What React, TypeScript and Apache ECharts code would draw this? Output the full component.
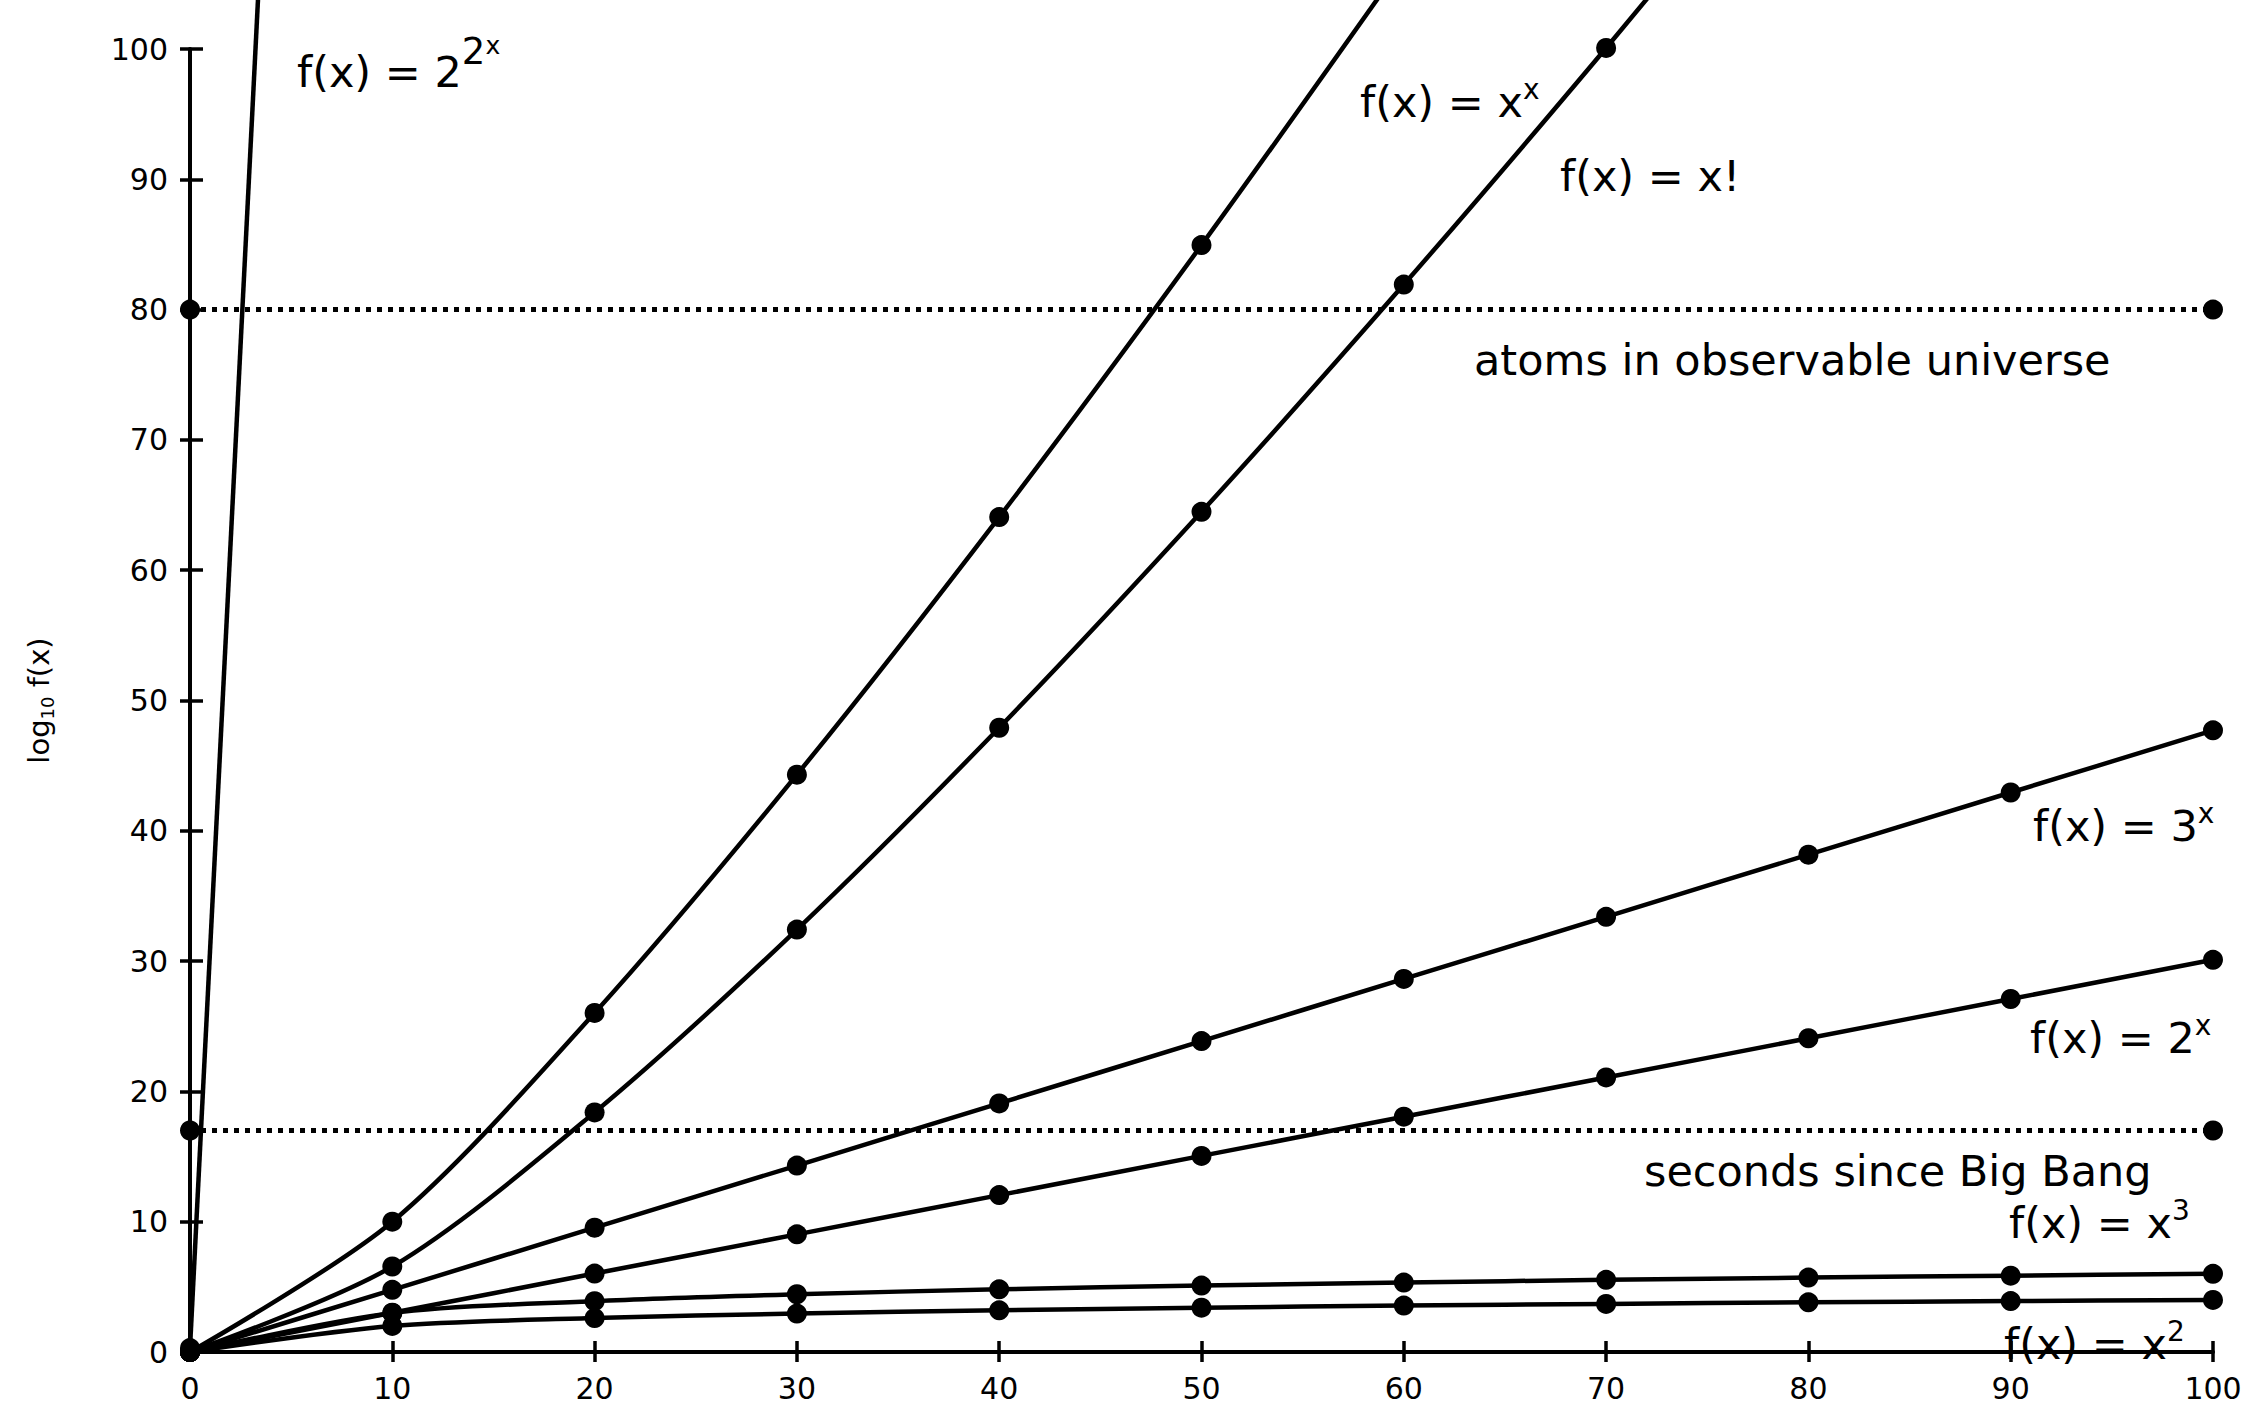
import React, { useEffect, useRef } from "react";
import * as echarts from "echarts";

// x positions (n)
const xs = [0, 10, 20, 30, 40, 50, 60, 70, 80, 90, 100];
// log10 f(x) values
const squareVals = [0, 2.0, 2.6, 2.95, 3.2, 3.4, 3.56, 3.69, 3.81, 3.91, 4.0];
const cubeVals = [0, 3.0, 3.9, 4.43, 4.81, 5.1, 5.33, 5.54, 5.71, 5.86, 6.0];
const pow2Vals = [0, 3.01, 6.02, 9.03, 12.04, 15.05, 18.06, 21.07, 24.08, 27.09, 30.1];
const pow3Vals = [0, 4.77, 9.54, 14.31, 19.08, 23.86, 28.63, 33.4, 38.17, 42.94, 47.71];
const factorialVals = [0, 6.56, 18.39, 32.42, 47.91, 64.48, 81.92, 100.08, 118.85];
const selfPowVals = [0, 10, 26.02, 44.31, 64.08, 84.95, 106.69];
const doubleExpXs = [0, 10];
const doubleExpVals = [0.3, 308.25];
// reference levels
const atomsLevel = 80;
const bigBangLevel = 17;
const refXs = [0, 100];
// axis ticks
const yTicksMax = 100;
const xTicksMax = 100;
const tickStep = 10;

const FONT = "DejaVu Sans";

function pairs(x: number[], y: number[]) {
  return y.map((v, i) => [x[i], v]);
}

function curve(name: string, data: number[][]) {
  return {
    name,
    type: "line",
    data,
    smooth: 0.3,
    clip: false,
    symbol: "circle",
    symbolSize: 20,
    itemStyle: { color: "#000" },
    lineStyle: { color: "#000", width: 4.5 },
    z: 3,
  };
}

function refLine(name: string, level: number) {
  return {
    name,
    type: "line",
    data: refXs.map((x) => [x, level]),
    clip: false,
    symbol: "circle",
    symbolSize: 20,
    itemStyle: { color: "#000" },
    lineStyle: { color: "#000", width: 5, type: [5, 6], cap: "butt" },
    z: 2,
  };
}

function label(x: number, y: number, text: string, rich: any) {
  return {
    type: "text",
    x,
    y,
    z: 100,
    style: {
      text,
      rich,
      fill: "#000",
      align: "left",
      verticalAlign: "middle",
      fontFamily: FONT,
      fontSize: 43,
    },
  };
}

const baseTok = { fontSize: 43, fontFamily: FONT, fill: "#000", lineHeight: 54 };
const supTok = { fontSize: 28, fontFamily: FONT, fill: "#000", lineHeight: 28, verticalAlign: "top" };

export default function App() {
  const ref = useRef<HTMLDivElement>(null);
  useEffect(() => {
    if (!ref.current) return;
    const chart = echarts.init(ref.current, undefined, { renderer: "svg" });
    const axisCommon = {
      type: "value",
      min: 0,
      interval: tickStep,
      splitLine: { show: false },
    };
    chart.setOption({
      animation: false,
      backgroundColor: "#fff",
      grid: { left: 190, right: 48, top: 49, bottom: 56, containLabel: false },
      xAxis: [
        {
          ...axisCommon,
          max: xTicksMax,
          position: "bottom",
          axisLine: { onZero: false, lineStyle: { color: "#000", width: 4 } },
          axisTick: { inside: true, length: 11, lineStyle: { color: "#000", width: 3.5 } },
          axisLabel: { fontSize: 30, fontFamily: FONT, color: "#000", margin: 21 },
        },
        {
          ...axisCommon,
          max: xTicksMax,
          position: "bottom",
          axisLine: { show: false, onZero: false },
          axisTick: { inside: false, length: 10, lineStyle: { color: "#000", width: 3.5 } },
          axisLabel: { show: false },
        },
      ],
      yAxis: [
        {
          ...axisCommon,
          max: yTicksMax,
          position: "left",
          axisLine: { onZero: false, lineStyle: { color: "#000", width: 4 } },
          axisTick: { inside: true, length: 13, lineStyle: { color: "#000", width: 3.5 } },
          axisLabel: { fontSize: 30, fontFamily: FONT, color: "#000", margin: 22 },
          name: "{a|log}{b|10}{a| f(x)}",
          nameLocation: "middle",
          nameGap: 134,
          nameRotate: 90,
          nameTextStyle: {
            fontSize: 29,
            fontFamily: FONT,
            color: "#000",
            rich: {
              a: { fontSize: 29, fontFamily: FONT, color: "#000", lineHeight: 34 },
              b: { fontSize: 18, fontFamily: FONT, color: "#000", lineHeight: 18, verticalAlign: "bottom" },
            },
          },
        },
        {
          ...axisCommon,
          max: yTicksMax,
          position: "left",
          axisLine: { show: false, onZero: false },
          axisTick: { inside: false, length: 10, lineStyle: { color: "#000", width: 3.5 } },
          axisLabel: { show: false },
        },
      ],
      series: [
        refLine("atoms in observable universe", atomsLevel),
        refLine("seconds since Big Bang", bigBangLevel),
        curve("x^2", pairs(xs, squareVals)),
        curve("x^3", pairs(xs, cubeVals)),
        curve("2^x", pairs(xs, pow2Vals)),
        curve("3^x", pairs(xs, pow3Vals)),
        curve("x!", pairs(xs, factorialVals)),
        curve("x^x", pairs(xs, selfPowVals)),
        { ...curve("2^2^x", pairs(doubleExpXs, doubleExpVals)), smooth: false },
      ],
      graphic: [
        label(297, 72, "{a|f(x) = 2}{s|2}{t|x}", {
          a: { ...baseTok, lineHeight: 78 },
          s: { ...supTok, fontSize: 37, lineHeight: 37 },
          t: { ...supTok, fontSize: 25, lineHeight: 25 },
        }),
        label(1360, 102, "{a|f(x) = x}{s|x}", { a: baseTok, s: supTok }),
        label(1560, 176, "{a|f(x) = x!}", { a: baseTok }),
        label(1474, 360, "{a|atoms in observable universe}", { a: baseTok }),
        label(2033, 826, "{a|f(x) = 3}{s|x}", { a: baseTok, s: supTok }),
        label(2030, 1038, "{a|f(x) = 2}{s|x}", { a: baseTok, s: supTok }),
        label(1644, 1171, "{a|seconds since Big Bang}", { a: baseTok }),
        label(2009, 1223, "{a|f(x) = x}{s|3}", { a: baseTok, s: supTok }),
        label(2004, 1344, "{a|f(x) = x}{s|2}", { a: baseTok, s: supTok }),
      ],
    });
    return () => chart.dispose();
  }, []);
  return (
    <div
      ref={ref}
      style={{ position: "absolute", left: 0, top: 0, width: 2261, height: 1408, background: "#fff" }}
    />
  );
}
